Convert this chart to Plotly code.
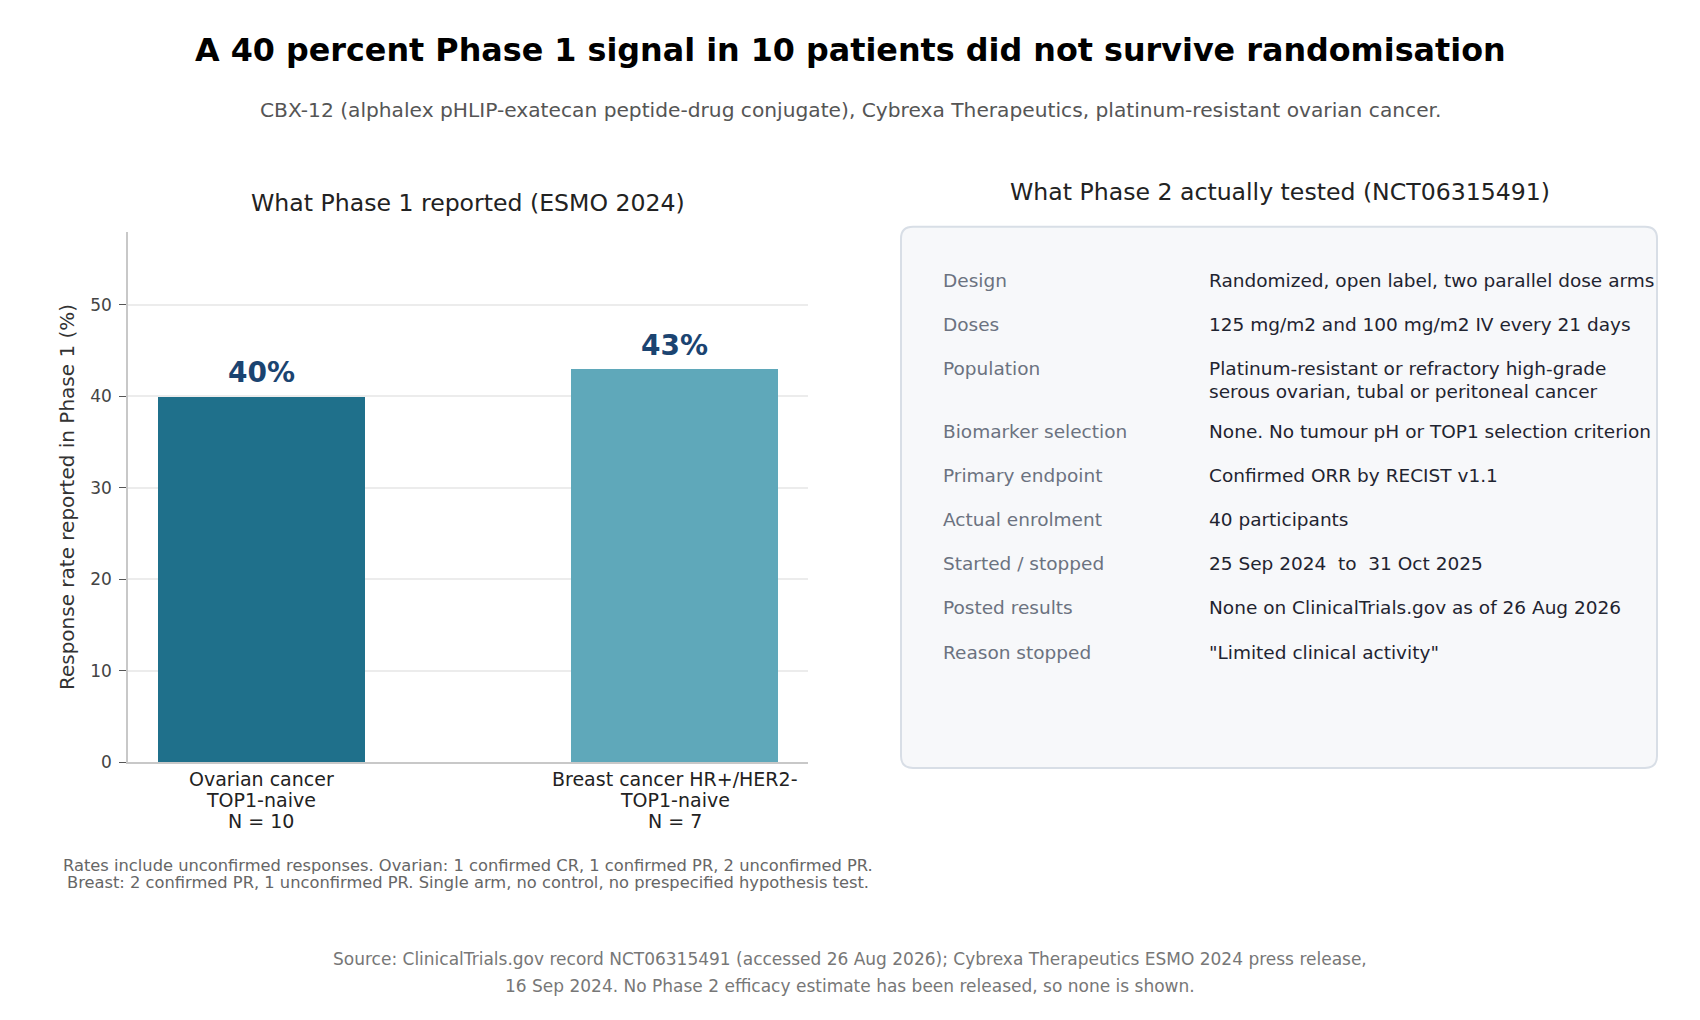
import plotly.graph_objects as go

# ---------------- data ----------------
categories = ["Ovarian cancer", "Breast cancer HR+/HER2-"]
subgroup = ["TOP1-naive", "TOP1-naive"]
n_patients = [10, 7]
response_rate = [40, 43]
bar_colors = ["#1f708b", "#5fa8ba"]
y_ticks = [0, 10, 20, 30, 40, 50]

panel_labels = ["Design", "Doses", "Population", "Biomarker selection", "Primary endpoint",
                "Actual enrolment", "Started / stopped", "Posted results", "Reason stopped"]
panel_values = ["Randomized, open label, two parallel dose arms",
                "125 mg/m2 and 100 mg/m2 IV every 21 days",
                "Platinum-resistant or refractory high-grade\nserous ovarian, tubal or peritoneal cancer",
                "None. No tumour pH or TOP1 selection criterion",
                "Confirmed ORR by RECIST v1.1",
                "40 participants",
                "25 Sep 2024  to  31 Oct 2025",
                "None on ClinicalTrials.gov as of 26 Aug 2026",
                "\"Limited clinical activity\""]

title = "A 40 percent Phase 1 signal in 10 patients did not survive randomisation"
subtitle = "CBX-12 (alphalex pHLIP-exatecan peptide-drug conjugate), Cybrexa Therapeutics, platinum-resistant ovarian cancer."
left_title = "What Phase 1 reported (ESMO 2024)"
right_title = "What Phase 2 actually tested (NCT06315491)"
y_title = "Response rate reported in Phase 1 (%)"
footnote_lines = ["Rates include unconfirmed responses. Ovarian: 1 confirmed CR, 1 confirmed PR, 2 unconfirmed PR.",
                  "Breast: 2 confirmed PR, 1 unconfirmed PR. Single arm, no control, no prespecified hypothesis test."]
source_lines = ["Source: ClinicalTrials.gov record NCT06315491 (accessed 26 Aug 2026); Cybrexa Therapeutics ESMO 2024 press release,",
                "16 Sep 2024. No Phase 2 efficacy estimate has been released, so none is shown."]

# ---------------- layout helpers ----------------
W, H = 1700, 1020
FONT = "DejaVu Sans"


def px(x):
    return x / W


def py(y):
    return 1 - y / H


def note(x, y, text, size, color, xanchor="center", yanchor="middle", **kw):
    d = dict(x=px(x), y=py(y), xref="paper", yref="paper", text=text, showarrow=False,
             xanchor=xanchor, yanchor=yanchor, font=dict(family=FONT, size=size, color=color))
    d.update(kw)
    return d


fig = go.Figure()
fig.add_trace(go.Bar(
    x=categories, y=response_rate, marker=dict(color=bar_colors, line=dict(width=0)),
    width=0.5, hoverinfo="skip", showlegend=False,
))

annotations = []
# bar value labels
for c, v in zip(categories, response_rate):
    annotations.append(dict(x=c, y=v, xref="x", yref="y", text=f"<b>{v}%</b>", showarrow=False,
                            yanchor="middle", yshift=23.5, font=dict(family=FONT, size=28, color="#1b4471")))

# category labels (three lines each)
cat_line_y = [786.7, 808.3, 829.6]
for c, s, n in zip(categories, subgroup, n_patients):
    for txt, yy in zip([c, s, f"N = {n}"], cat_line_y):
        annotations.append(dict(x=c, y=py(yy), xref="x", yref="paper", text=txt, showarrow=False,
                                xanchor="center", yanchor="middle",
                                font=dict(family=FONT, size=19, color="#222222")))

# titles
annotations.append(note(850, 50, f"<b>{title}</b>", 31.8, "#000000"))
annotations.append(note(850, 110.6, subtitle, 20.2, "#555555"))
annotations.append(note(467.5, 205, left_title, 23.6, "#222222"))
annotations.append(note(1280, 194, right_title, 23.6, "#222222"))
annotations.append(note(67, 502, y_title, 20, "#333333", textangle=-90))
for line, yy in zip(footnote_lines, [874, 891.5]):
    annotations.append(note(467.5, yy, line, 16.3, "#666666"))
for line, yy in zip(source_lines, [968, 995.8]):
    annotations.append(note(850, yy, line, 17, "#777777"))

# panel rows
row_c = 283
for lab, val in zip(panel_labels, panel_values):
    lines = val.split("\n")
    annotations.append(note(940.5, row_c, lab, 18.5, "#6b7280", xanchor="left"))
    for i, ln in enumerate(lines):
        annotations.append(note(1207, row_c + 23 * i, ln, 18.5, "#1f2430", xanchor="left"))
    row_c += 44.5 + 19.5 * (len(lines) - 1)

# rounded panel box
x0, x1, y0, y1 = px(901), px(1657), py(229), py(775.5)
rx, ry = 12 / W, 12 / H
path = (f"M {x0 + rx},{y0} L {x1 - rx},{y0} Q {x1},{y0} {x1},{y0 - ry} "
        f"L {x1},{y1 + ry} Q {x1},{y1} {x1 - rx},{y1} "
        f"L {x0 + rx},{y1} Q {x0},{y1} {x0},{y1 + ry} "
        f"L {x0},{y0 - ry} Q {x0},{y0} {x0 + rx},{y0} Z")

fig.update_layout(
    width=W, height=H,
    margin=dict(l=0, r=0, t=0, b=0),
    paper_bgcolor="white", plot_bgcolor="white",
    font=dict(family=FONT, color="#333333"),
    annotations=annotations,
    shapes=[dict(type="path", path=path, xref="paper", yref="paper",
                 fillcolor="#f7f8fa", line=dict(color="#d8dee6", width=2), layer="below")],
    bargap=0,
    xaxis=dict(domain=[px(128), px(808)], range=[-0.322, 1.322], tickmode="array",
               tickvals=categories, showticklabels=False, showline=True, linecolor="#c8c8c8",
               linewidth=1.5, ticks="", showgrid=False, zeroline=False, fixedrange=True),
    yaxis=dict(domain=[py(770), py(234)], range=[0, 58], tickmode="array", tickvals=y_ticks,
               showline=True, linecolor="#c8c8c8", linewidth=1.5, ticks="outside", ticklen=7,
               tickwidth=1.3, tickcolor="#555555", showgrid=True, gridcolor="#ececec", gridwidth=1.5,
               zeroline=False, fixedrange=True, ticklabelstandoff=4,
               tickfont=dict(family=FONT, size=17, color="#444444")),
)

fig.write_html("out.html", post_script="document.body.style.margin='0px';",
               config={"displayModeBar": False})
